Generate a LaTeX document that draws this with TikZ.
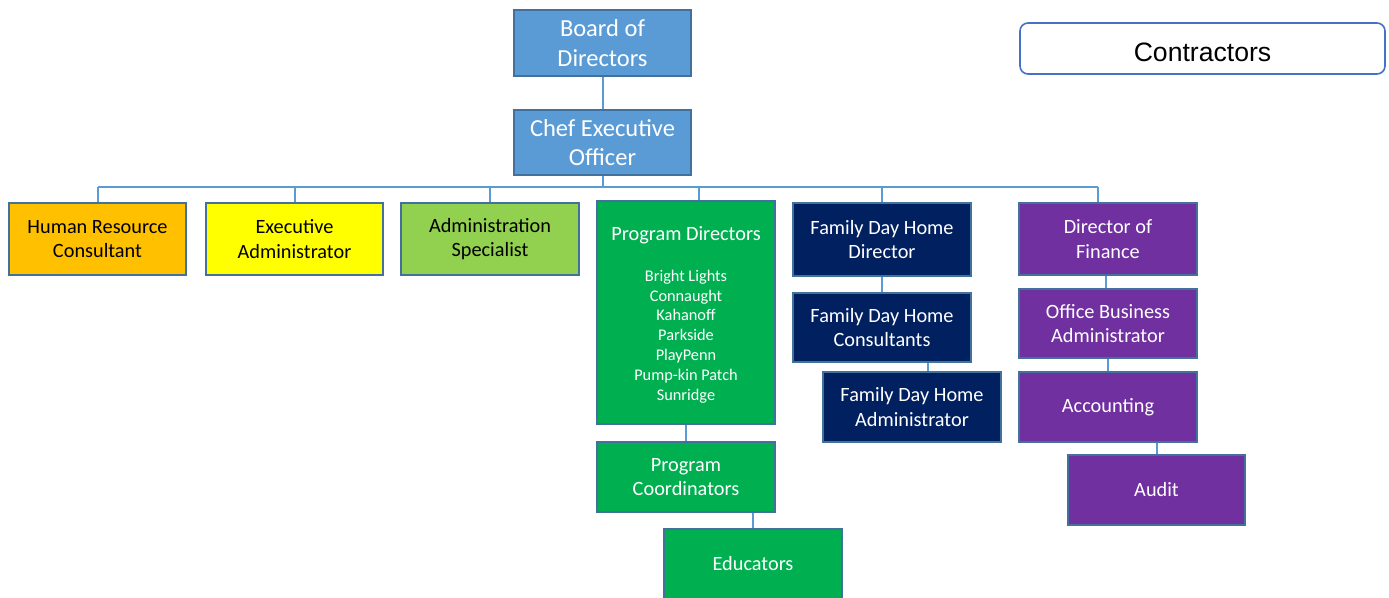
\documentclass[tikz,border=0pt]{standalone}
\usepackage{fontspec}
\setmainfont{Carlito}
\newfontfamily\arialfont{Liberation Sans}
\definecolor{cblue}{HTML}{5B9BD5}
\definecolor{cborder}{HTML}{41719C}
\definecolor{corange}{HTML}{FFC000}
\definecolor{cyellow}{HTML}{FFFF00}
\definecolor{clgreen}{HTML}{92D050}
\definecolor{cgreen}{HTML}{00B050}
\definecolor{cnavy}{HTML}{002060}
\definecolor{cpurple}{HTML}{7030A0}
\definecolor{cline}{HTML}{5B9BD5}
\definecolor{ccontr}{HTML}{4472C4}
\tikzset{
  orgbox/.style={draw=cborder, line width=1.3pt, inner sep=0pt, align=center,
    minimum width=178pt, minimum height=70pt, text=white,
    font=\fontsize{20.3}{24.8}\selectfont},
  topbox/.style={orgbox, fill=cblue, font=\fontsize{24.5}{29.5}\selectfont},
  conn/.style={draw=cline, line width=2pt},
}
\begin{document}
\begin{tikzpicture}[x=1pt,y=-1pt]
\useasboundingbox (0,0) rectangle (1389,597);
% top
\node[topbox, minimum width=177pt, minimum height=66pt] (board) at (602.5,43) {Board of\\Directors};
\node[topbox, minimum width=177pt, minimum height=65pt] (ceo) at (602.5,142.5) {Chef Executive\\Officer};
% second row
\node[orgbox, fill=corange, text=black, minimum width=177pt, minimum height=72pt] (hr) at (97.5,239) {Human Resource\\Consultant};
\node[orgbox, fill=cyellow, text=black, minimum width=177pt, minimum height=72pt] (ea) at (294.5,239) {Executive\\Administrator};
\node[orgbox, fill=clgreen, text=black, minimum height=72pt] (as) at (490,239) {Administration\\Specialist};
\node[orgbox, fill=cgreen, minimum height=223pt] (pd) at (686,312.5) {};
\node[text=white, font=\fontsize{20.3}{24.8}\selectfont] (pdtitle) at (686,235) {Program Directors};
\node[text=white, align=center, font=\fontsize{16.3}{19.8}\selectfont] (pdlist) at (686,336.5)
  {Bright Lights\\Connaught\\Kahanoff\\Parkside\\PlayPenn\\Pump-kin Patch\\Sunridge};
\node[orgbox, fill=cgreen] (pc) at (686,477) {Program\\Coordinators};
\node[orgbox, fill=cgreen] (edu) at (753,564) {Educators};
\node[orgbox, fill=cnavy, minimum height=73pt] (fdhd) at (882,239.5) {Family Day Home\\Director};
\node[orgbox, fill=cnavy, minimum height=69pt] (fdhc) at (882,327.5) {Family Day Home\\Consultants};
\node[orgbox, fill=cnavy] (fdha) at (912,407) {Family Day Home\\Administrator};
\node[orgbox, fill=cpurple, minimum height=72pt] (df) at (1108,239) {Director of\\Finance};
\node[orgbox, fill=cpurple, minimum height=69pt] (oba) at (1108,323.5) {Office Business\\Administrator};
\node[orgbox, fill=cpurple] (acc) at (1108,407) {Accounting};
\node[orgbox, fill=cpurple, minimum width=177pt] (audit) at (1156.5,490) {Audit};
% contractors
\node[draw=ccontr, line width=1.6pt, rounded corners=8pt, fill=white, minimum width=365pt,
  minimum height=51pt, inner sep=0pt, text height=25pt, text depth=0pt,
  font=\arialfont\fontsize{26.6}{30}\selectfont] (contr) at (1202.5,48.5) {Contractors};
% connectors
\coordinate (busL) at (98,187);
\coordinate (busR) at (1098,187);
\coordinate (xpd) at (699,0);
\coordinate (xfa) at (928,0);
\coordinate (xob) at (1106,0);
\coordinate (xdf) at (1098,0);
\draw[conn] (board.south) -- (ceo.north);
\draw[conn] (ceo.south) -- (ceo.south |- busL);
\draw[conn] (busL) -- (busR);
\draw[conn] (hr.north) -- (hr.north |- busL);
\draw[conn] (ea.north) -- (ea.north |- busL);
\draw[conn] (as.north) -- (as.north |- busL);
\draw[conn] (pd.north -| xpd) -- (xpd |- busL);
\draw[conn] (fdhd.north) -- (fdhd.north |- busL);
\draw[conn] (df.north -| xdf) -- (busR);
\draw[conn] (pd.south) -- (pc.north);
\draw[conn] (edu.north) -- (edu.north |- pc.south);
\draw[conn] (fdhd.south) -- (fdhc.north);
\draw[conn] (fdhc.south -| xfa) -- (fdha.north -| xfa);
\draw[conn] (df.south -| xob) -- (oba.north -| xob);
\draw[conn] (oba.south) -- (acc.north);
\draw[conn] (audit.north) -- (audit.north |- acc.south);
\end{tikzpicture}
\end{document}
